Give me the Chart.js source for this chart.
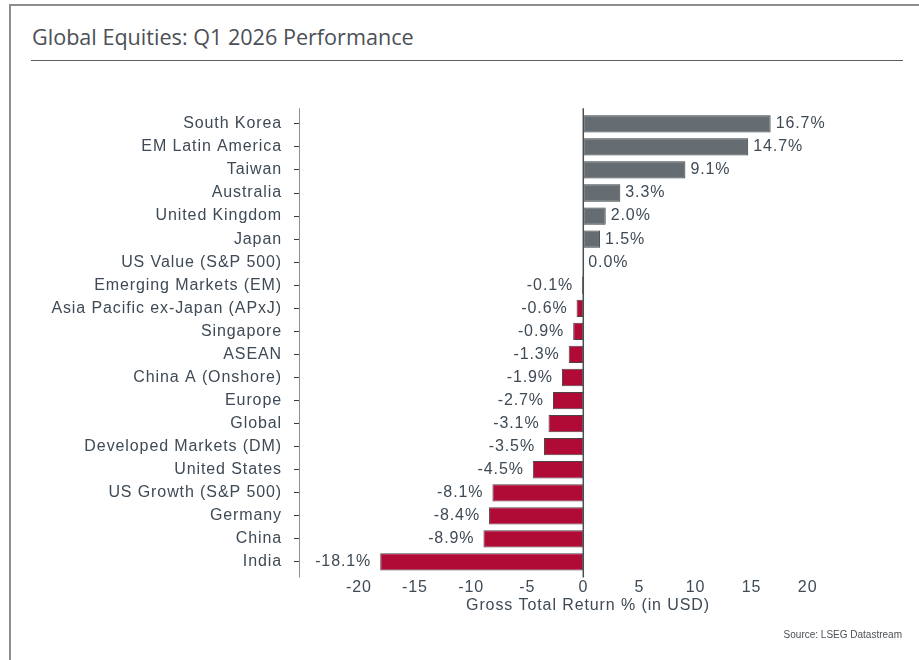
<!DOCTYPE html>
<html>
<head>
<meta charset="utf-8">
<script src="https://cdn.jsdelivr.net/npm/chart.js@4/dist/chart.umd.min.js"></script>
<style>
  html, body { margin: 0; padding: 0; background: #ffffff; }
  #wrap { position: relative; width: 919px; height: 660px; overflow: hidden; background: #fff; }
  #frame { position: absolute; left: 9px; top: 4px; right: -5px; bottom: -5px;
           border-top: 2px solid #8d8d8d; border-left: 2px solid #8d8d8d; }
  #title { position: absolute; left: 32px; top: 22px; font-family: "Open Sans", sans-serif;
           font-size: 21.6px; color: #4b5056; white-space: nowrap; }
  #rule { position: absolute; left: 31px; top: 60px; width: 872px; height: 0;
          border-top: 1.5px solid #5c6166; }
  #source { position: absolute; right: 17px; top: 629px; font-family: "Liberation Sans", Arial, sans-serif;
            font-size: 10px; color: #4b5056; }
  #chartbox { position: absolute; left: 0; top: 0; width: 919px; height: 660px; }
</style>
</head>
<body>
<div id="wrap">
  <div id="frame"></div>
  <div id="title">Global Equities: Q1 2026 Performance</div>
  <div id="rule"></div>
  <div id="chartbox"><canvas id="c" width="919" height="660"></canvas></div>
  <div id="source">Source: LSEG Datastream</div>
</div>
<script>
const categories = ["South Korea","EM Latin America","Taiwan","Australia","United Kingdom","Japan",
  "US Value (S&P 500)","Emerging Markets (EM)","Asia Pacific ex-Japan (APxJ)","Singapore","ASEAN",
  "China A (Onshore)","Europe","Global","Developed Markets (DM)","United States","US Growth (S&P 500)",
  "Germany","China","India"];
const returns = [16.7,14.7,9.1,3.3,2.0,1.5,0.0,-0.1,-0.6,-0.9,-1.3,-1.9,-2.7,-3.1,-3.5,-4.5,-8.1,-8.4,-8.9,-18.1];
const xTickValues = [-20,-15,-10,-5,0,5,10,15,20];
const xTitle = "Gross Total Return % (in USD)";

const POS = '#656d72', NEG = '#b00a37', TXT = '#3e4a55';
const FONT = '"Liberation Sans", Arial, sans-serif';
const SPACING = '0.9px';

const labelPlugin = {
  id: 'barLabels',
  beforeLayout(chart) { chart.ctx.letterSpacing = SPACING; },
  beforeDraw(chart) { chart.ctx.letterSpacing = SPACING; },
  beforeDatasetsDraw(chart) {
    const ctx = chart.ctx, a = chart.chartArea;
    ctx.save();
    ctx.lineWidth = 1;
    ctx.strokeStyle = '#8f8f8f';
    ctx.beginPath(); ctx.moveTo(Math.round(a.left) + 0.5, a.top - 4); ctx.lineTo(Math.round(a.left) + 0.5, a.bottom + 4); ctx.stroke();
    ctx.restore();
  },
  afterDatasetsDraw(chart) {
    const ctx = chart.ctx;
    const meta = chart.getDatasetMeta(0);
    ctx.save();
    ctx.letterSpacing = SPACING;
    ctx.font = '16px ' + FONT;
    ctx.fillStyle = TXT;
    ctx.textBaseline = 'middle';
    meta.data.forEach((el, i) => {
      const v = returns[i];
      const txt = v.toFixed(1) + '%';
      if (v >= 0) { ctx.textAlign = 'left'; ctx.fillText(txt, el.x + 5, el.y); }
      else { ctx.textAlign = 'right'; ctx.fillText(txt, el.x - 9, el.y); }
    });
    ctx.restore();
  },
  afterDraw(chart) {
    const ctx = chart.ctx, a = chart.chartArea;
    const x0 = chart.scales.x.getPixelForValue(0);
    ctx.save();
    ctx.lineWidth = 1.5;
    ctx.strokeStyle = '#4a4f53';
    ctx.beginPath(); ctx.moveTo(x0, a.top - 4); ctx.lineTo(x0, a.bottom + 4); ctx.stroke();
    ctx.restore();
  }
};

new Chart(document.getElementById('c'), {
  type: 'bar',
  data: {
    labels: categories,
    datasets: [{
      data: returns,
      backgroundColor: returns.map(v => v >= 0 ? POS : NEG),
      borderColor: returns.map(v => v >= 0 ? '#3b4044' : '#4d4447'),
      borderWidth: 1,
      borderSkipped: false,
      barPercentage: 0.75,
      categoryPercentage: 1.0
    }]
  },
  options: {
    indexAxis: 'y',
    responsive: false,
    animation: false,
    devicePixelRatio: 1,
    layout: { padding: { left: 0, top: 112.3, right: 42, bottom: 45 } },
    plugins: { legend: { display: false }, tooltip: { enabled: false } },
    scales: {
      x: {
        type: 'linear',
        min: -25.34,
        max: 26.18,
        afterBuildTicks: (s) => { s.ticks = xTickValues.map(v => ({ value: v })); },
        afterFit: (s) => { s.height = 41.5; },
        grid: { display: false, drawTicks: false },
        border: { display: false },
        ticks: { font: { family: FONT, size: 16 }, color: TXT, padding: 4, maxRotation: 0,
                 callback: (v) => String(v) },
        title: { display: true, text: xTitle, font: { family: FONT, size: 16 }, color: TXT,
                 padding: { top: 0, bottom: 0 } }
      },
      y: {
        afterFit: (s) => { s.width = 299; },
        grid: { display: true, drawOnChartArea: false, drawTicks: true, tickLength: 5,
                offset: false, color: '#3a3a3a', lineWidth: 1 },
        border: { display: false },
        ticks: { font: { family: FONT, size: 16 }, color: TXT, padding: 12, autoSkip: false }
      }
    }
  },
  plugins: [labelPlugin]
});
</script>
</body>
</html>
